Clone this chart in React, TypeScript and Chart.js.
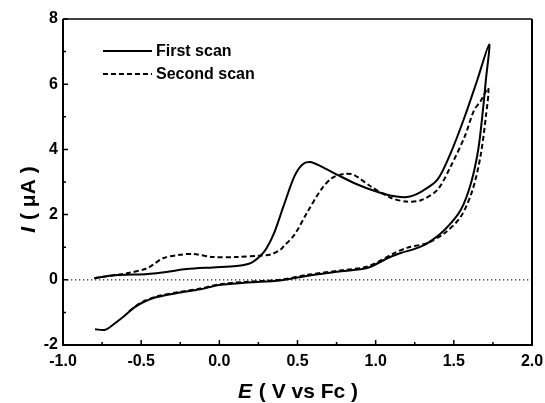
import React, { useEffect, useRef } from "react";
import { Chart, registerables } from "chart.js";

Chart.register(...registerables);

// Cyclic voltammogram: potential E (V vs Fc) and current I (µA)
const firstScanE = [
  -0.8, -0.68, -0.55, -0.46, -0.34, -0.21, -0.04, 0.11, 0.2, 0.26, 0.3, 0.35, 0.41, 0.48, 0.53, 0.58,
  0.65, 0.755, 0.88, 0.99, 1.1, 1.2, 1.29, 1.395, 1.48, 1.57, 1.65, 1.726,
  1.705, 1.684, 1.656, 1.61, 1.545, 1.44, 1.33, 1.25, 1.16, 1.075, 0.95, 0.78, 0.56, 0.39, 0.18, 0.0,
  -0.12, -0.25, -0.4, -0.5, -0.55, -0.61, -0.68, -0.73, -0.795,
];
const firstScanI = [
  0.05, 0.14, 0.16, 0.18, 0.24, 0.33, 0.38, 0.42, 0.51, 0.72, 0.95, 1.43, 2.25, 3.17, 3.53, 3.61,
  3.48, 3.22, 2.93, 2.73, 2.58, 2.54, 2.7, 3.07, 3.89, 5.01, 6.13, 7.22,
  6.13, 5.11, 3.99, 2.97, 2.15, 1.53, 1.12, 0.95, 0.82, 0.66, 0.37, 0.26, 0.12, -0.02, -0.08, -0.16,
  -0.29, -0.39, -0.53, -0.72, -0.87, -1.12, -1.38, -1.53, -1.52,
];

const secondScanE = [
  -0.8, -0.59, -0.46, -0.36, -0.25, -0.165, -0.04, 0.11, 0.26, 0.33, 0.39, 0.41, 0.48, 0.56, 0.65,
  0.72, 0.8, 0.86, 0.97, 1.1, 1.2, 1.29, 1.395, 1.48, 1.57, 1.63, 1.67, 1.72,
  1.705, 1.67, 1.62, 1.545, 1.44, 1.33, 1.2, 1.12, 0.95, 0.78, 0.56, 0.39, 0.18, 0.0, -0.12, -0.25,
  -0.4, -0.5, -0.58,
];
const secondScanI = [
  0.05, 0.2, 0.36, 0.66, 0.77, 0.79, 0.7, 0.7, 0.74, 0.78, 0.92, 1.02, 1.38, 2.05, 2.76,
  3.12, 3.25, 3.22, 2.86, 2.51, 2.4, 2.44, 2.76, 3.48, 4.4, 5.21, 5.47, 5.88,
  5.01, 3.78, 2.76, 1.94, 1.43, 1.13, 0.98, 0.82, 0.41, 0.29, 0.15, 0.0, -0.06, -0.14, -0.27, -0.37,
  -0.51, -0.7, -0.98,
];

const zeroLineE = [-1.0, 2.0];
const zeroLineI = [0, 0];

const legendLabels = ["First scan", "Second scan"];
const xTitleItalic = "E";
const xTitleRest = " ( V vs Fc )";
const yTitleItalic = "I";
const yTitleRest = " ( \u03bcA )";

const FONT = '"Liberation Sans", Arial, sans-serif';

const toPoints = (xs: number[], ys: number[]) => xs.map((x, i) => ({ x, y: ys[i] }));

// Frame, inward tick marks, in-plot legend and axis titles
const decorPlugin = {
  id: "decor",
  afterDraw(chart: any) {
    const { ctx, chartArea } = chart;
    const { left, right, top, bottom } = chartArea;
    const xs = chart.scales.x;
    const ys = chart.scales.y;
    ctx.save();
    ctx.strokeStyle = "#000";

    // frame
    ctx.lineWidth = 2;
    ctx.beginPath();
    ctx.moveTo(left, top);
    ctx.lineTo(left, bottom);
    ctx.lineTo(right, bottom);
    ctx.lineTo(right, top);
    ctx.stroke();
    ctx.lineWidth = 1.5;
    ctx.beginPath();
    ctx.moveTo(left, top);
    ctx.lineTo(right, top);
    ctx.stroke();

    // ticks pointing into the plot
    ctx.lineWidth = 1.5;
    ctx.beginPath();
    xs.ticks.forEach((t: any) => {
      const px = xs.getPixelForValue(t.value);
      const len = t.label !== "" ? 5 : 3;
      ctx.moveTo(px, bottom);
      ctx.lineTo(px, bottom - len);
    });
    ys.ticks.forEach((t: any) => {
      const py = ys.getPixelForValue(t.value);
      const len = t.label !== "" ? 5 : 3;
      ctx.moveTo(left, py);
      ctx.lineTo(left + len, py);
    });
    ctx.stroke();

    // legend
    const ds = chart.data.datasets;
    const legendX = left + 40;
    const legendW = 49;
    [0, 1].forEach((i) => {
      const y = top + 32 + i * 23;
      ctx.save();
      ctx.lineWidth = ds[i].borderWidth;
      ctx.setLineDash(ds[i].borderDash || []);
      ctx.strokeStyle = ds[i].borderColor;
      ctx.beginPath();
      ctx.moveTo(legendX, y);
      ctx.lineTo(legendX + legendW, y);
      ctx.stroke();
      ctx.restore();
      ctx.fillStyle = "#000";
      ctx.font = `bold 16px ${FONT}`;
      ctx.textAlign = "left";
      ctx.textBaseline = "middle";
      ctx.fillText(legendLabels[i], legendX + legendW + 4, y + 1);
    });

    // x title
    ctx.fillStyle = "#000";
    ctx.textBaseline = "alphabetic";
    ctx.textAlign = "left";
    const italic = `italic bold 21px ${FONT}`;
    const normal = `bold 21px ${FONT}`;
    ctx.font = italic;
    const wE = ctx.measureText(xTitleItalic).width;
    ctx.font = normal;
    const wRest = ctx.measureText(xTitleRest).width;
    const xc = (left + right) / 2;
    const sx = xc - (wE + wRest) / 2;
    const by = 398;
    ctx.font = italic;
    ctx.fillText(xTitleItalic, sx, by);
    ctx.font = normal;
    ctx.fillText(xTitleRest, sx + wE + 1, by);

    // y title (rotated)
    ctx.save();
    ctx.translate(35, 200);
    ctx.rotate(-Math.PI / 2);
    ctx.font = italic;
    const wI = ctx.measureText(yTitleItalic).width;
    ctx.font = normal;
    const wR = ctx.measureText(yTitleRest).width;
    const s = -(wI + wR) / 2;
    ctx.font = italic;
    ctx.fillText(yTitleItalic, s, 0);
    ctx.font = normal;
    ctx.fillText(yTitleRest, s + wI + 1, 0);
    ctx.restore();

    ctx.restore();
  },
};

export default function App() {
  const canvasRef = useRef<HTMLCanvasElement | null>(null);

  useEffect(() => {
    const canvas = canvasRef.current;
    if (!canvas) return;
    const chart = new Chart(canvas, {
      type: "scatter",
      data: {
        datasets: [
          {
            label: legendLabels[0],
            data: toPoints(firstScanE, firstScanI),
            showLine: true,
            borderColor: "#000",
            borderWidth: 2,
            pointRadius: 0,
            tension: 0.3,
            fill: false,
          },
          {
            label: legendLabels[1],
            data: toPoints(secondScanE, secondScanI),
            showLine: true,
            borderColor: "#000",
            borderWidth: 2,
            borderDash: [5, 3],
            pointRadius: 0,
            tension: 0.3,
            fill: false,
          },
          {
            label: "zero",
            data: toPoints(zeroLineE, zeroLineI),
            showLine: true,
            borderColor: "#222",
            borderWidth: 1.3,
            borderDash: [1.3, 2.7],
            pointRadius: 0,
            tension: 0,
            fill: false,
          },
        ],
      },
      options: {
        animation: false,
        responsive: false,
        devicePixelRatio: 1,
        layout: { padding: { top: 19, right: 13, left: 0, bottom: 0 } },
        plugins: {
          legend: { display: false },
          tooltip: { enabled: false },
        },
        scales: {
          x: {
            type: "linear",
            min: -1,
            max: 2,
            grid: { display: false, drawTicks: false },
            border: { display: false },
            afterFit: (scale: any) => {
              scale.height = 58;
              scale.paddingLeft = 0;
              scale.paddingRight = 0;
            },
            ticks: {
              stepSize: 0.25,
              autoSkip: false,
              maxRotation: 0,
              padding: 7,
              color: "#000",
              font: { family: FONT, size: 16, weight: "bold" },
              callback: (v: any) => {
                const n = Number(v);
                return Math.abs(n * 2 - Math.round(n * 2)) < 1e-6 ? n.toFixed(1) : "";
              },
            },
          },
          y: {
            type: "linear",
            min: -2,
            max: 8,
            grid: { display: false, drawTicks: false },
            border: { display: false },
            afterFit: (scale: any) => {
              scale.width = 63;
              scale.paddingTop = 0;
              scale.paddingBottom = 0;
            },
            ticks: {
              stepSize: 1,
              autoSkip: false,
              padding: 5,
              color: "#000",
              font: { family: FONT, size: 16, weight: "bold" },
              callback: (v: any) => {
                const n = Number(v);
                return Math.round(n) % 2 === 0 ? String(Math.round(n)) : "";
              },
            },
          },
        },
      },
      plugins: [decorPlugin],
    });
    return () => chart.destroy();
  }, []);

  return (
    <div style={{ position: "fixed", left: 0, top: 0, width: 545, height: 403, background: "#fff" }}>
      <canvas ref={canvasRef} width={545} height={403} style={{ display: "block" }} />
    </div>
  );
}
